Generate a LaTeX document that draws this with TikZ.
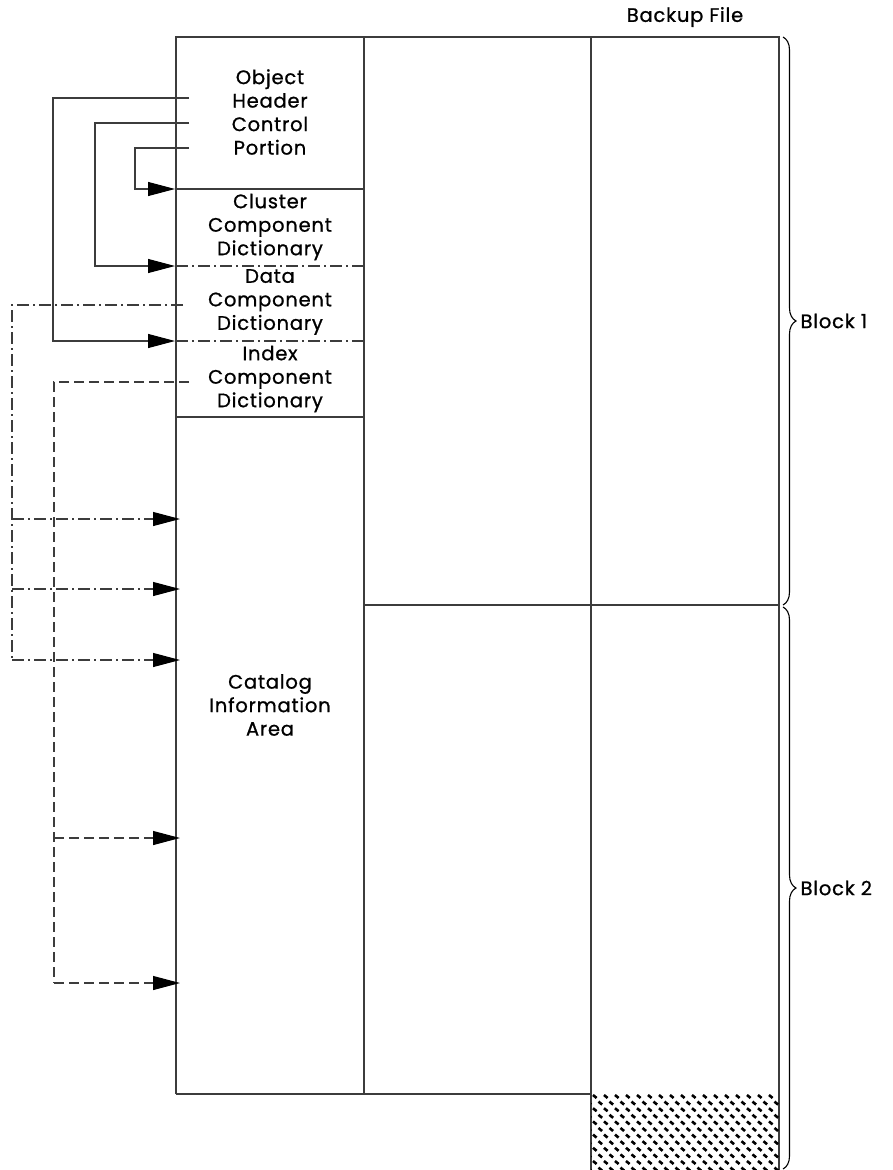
\documentclass[tikz,border=0pt]{standalone}
\usepackage{fontspec}
\setmainfont[FakeBold=0.9,LetterSpace=4]{Poppins}
\usetikzlibrary{arrows.meta,decorations.pathreplacing}
\definecolor{linec}{HTML}{3C3C3C}
\begin{document}
\begin{tikzpicture}[x=1pt,y=-1pt,
  frame/.style={draw=linec, line width=1.2pt},
  lbl/.style={align=center, inner sep=0pt, font=\fontsize{19.5}{23.5}\selectfont},
  link/.style={draw=linec, line width=1.1pt, -{Triangle[length=27pt,width=14pt,color=black]}},
  dashdot/.style={dash pattern=on 12pt off 4pt on 2pt off 4pt},
  shortdash/.style={dash pattern=on 10pt off 5pt},
  blockbrace/.style={draw=black, line width=1.1pt, decorate, decoration={brace, amplitude=13pt}}]
  \useasboundingbox (0,0) rectangle (892,1170);

  % outer frame and column dividers
  \draw[frame] (176,1094) -- (176,37) -- (779,37) -- (779,1170);
  \draw[frame] (364,37) -- (364,1094);
  \draw[frame] (591,37) -- (591,1170);
  \draw[frame] (176,1094) -- (591,1094);
  \draw[frame] (364,605) -- (779,605);

  % rows of the first column
  \draw[frame] (176,189) -- (364,189);
  \draw[frame, dashdot] (176,266) -- (364,266);
  \draw[frame, dashdot] (176,341) -- (364,341);
  \draw[frame] (176,417) -- (364,417);

  % cell labels
  \node[lbl] (ohcp) at (270,112) {Object\\Header\\Control\\Portion};
  \node[lbl] (ccd) at (270,227) {Cluster\\Component\\Dictionary};
  \node[lbl] (dcd) at (270,302) {Data\\Component\\Dictionary};
  \node[lbl] (icd) at (270,379) {Index\\Component\\Dictionary};
  \node[lbl] (cia) at (270,705) {Catalog\\Information\\Area};
  \node[lbl] (bkf) at (685,17) {Backup File};

  % targets on the left edge of the first column
  \coordinate (tCcd) at (175,189);
  \coordinate (tDcd) at (175,266);
  \coordinate (tIcd) at (175,341);
  \coordinate (tA1) at (180,519);
  \coordinate (tA2) at (180,589);
  \coordinate (tA3) at (180,660);
  \coordinate (tB1) at (180,838);
  \coordinate (tB2) at (180,983);

  % sources inside the cells
  \coordinate (sOh1) at (189,98);
  \coordinate (sOh2) at (189,123);
  \coordinate (sOh3) at (189,148);
  \coordinate (sDcd) at (183,305);
  \coordinate (sIcd) at (189,382);

  % header pointers
  \draw[link] (sOh1) -| (53,341) -- (tIcd);
  \draw[link] (sOh2) -| (95,266) -- (tDcd);
  \draw[link] (sOh3) -| (135,189) -- (tCcd);

  % data component pointers
  \draw[frame, dashdot] (sDcd) -| (12,660);
  \draw[link, dashdot] (12,519) -- (tA1);
  \draw[link, dashdot] (12,589) -- (tA2);
  \draw[link, dashdot] (12,660) -- (tA3);

  % index component pointers
  \draw[frame, shortdash] (sIcd) -| (54,983);
  \draw[link, shortdash] (54,838) -- (tB1);
  \draw[link, shortdash] (54,983) -- (tB2);

  % hatched free area
  \begin{scope}
    \clip (591,1093) rectangle (779,1170);
    \foreach \j [evaluate=\j as \off using {mod(\j,2)*5.5}] in {0,...,12}
      \foreach \i in {-1,...,17}
        \draw[line width=2.6pt] (593+\i*11+\off,1095+\j*6.6) -- ++(3.6,3.0);
  \end{scope}

  % block braces
  \draw[blockbrace] (783,37) -- (783,605) node[midway, right=17pt, lbl] (b1) {Block 1};
  \draw[blockbrace] (783,607) -- (783,1169) node[midway, right=17pt, lbl] (b2) {Block 2};
\end{tikzpicture}
\end{document}
